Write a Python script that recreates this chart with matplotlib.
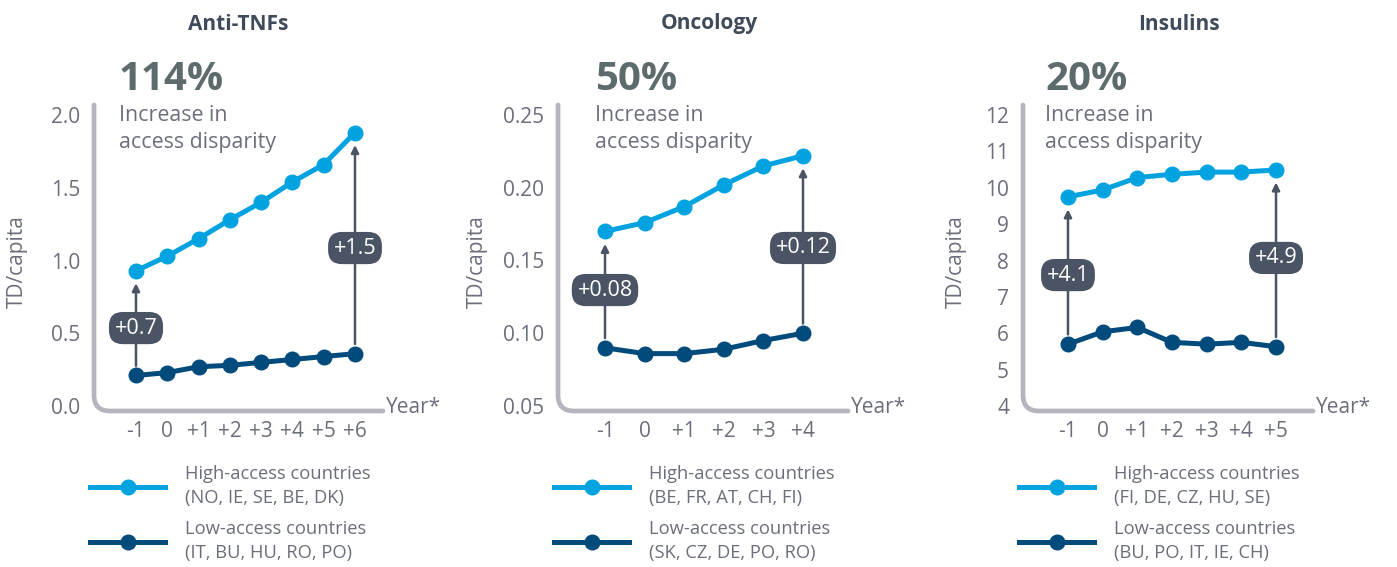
import matplotlib
matplotlib.use("Agg")
import matplotlib.pyplot as plt
from matplotlib.path import Path
from matplotlib.patches import PathPatch
from matplotlib.lines import Line2D

plt.rcParams["font.family"] = ["Open Sans", "DejaVu Sans"]

# ---- data ----
titles = ["Anti-TNFs", "Oncology", "Insulins"]
increase = ["114%", "50%", "20%"]

years_tnf = ["-1", "0", "+1", "+2", "+3", "+4", "+5", "+6"]
high_tnf = [0.93, 1.03, 1.15, 1.28, 1.40, 1.54, 1.66, 1.88]
low_tnf = [0.21, 0.23, 0.27, 0.28, 0.30, 0.32, 0.34, 0.36]

years_onc = ["-1", "0", "+1", "+2", "+3", "+4"]
high_onc = [0.170, 0.176, 0.187, 0.202, 0.215, 0.222]
low_onc = [0.090, 0.086, 0.086, 0.089, 0.095, 0.100]

years_ins = ["-1", "0", "+1", "+2", "+3", "+4", "+5"]
high_ins = [9.75, 9.94, 10.28, 10.37, 10.43, 10.43, 10.49]
low_ins = [5.70, 6.04, 6.16, 5.75, 5.70, 5.75, 5.63]

gap_labels = [["+0.7", "+1.5"], ["+0.08", "+0.12"], ["+4.1", "+4.9"]]

yticks_tnf = [0.0, 0.5, 1.0, 1.5, 2.0]
yticks_onc = [0.05, 0.10, 0.15, 0.20, 0.25]
yticks_ins = [4, 5, 6, 7, 8, 9, 10, 11, 12]
ytick_fmt = ["{:.1f}", "{:.2f}", "{:.0f}"]

high_countries = ["NO, IE, SE, BE, DK", "BE, FR, AT, CH, FI", "FI, DE, CZ, HU, SE"]
low_countries = ["IT, BU, HU, RO, PO", "SK, CZ, DE, PO, RO", "BU, PO, IT, IE, CH"]

# ---- styling / layout ----
HIGH = "#00a3e0"
LOW = "#004a7c"
SPINE = "#b5b5bd"
TXT = "#6b6f7a"
BIG = "#5e6b6d"
TITLE = "#3f4a5a"
BOX = "#4a5464"

W, H = 1397, 567
fig = plt.figure(figsize=(W / 100, H / 100), dpi=100)

# axes boxes in pixels: left, right, top, bottom ; xlim ; ylim ; label y of gap boxes
panels = [
    dict(box=(94, 383, 105, 411), xlim=(-2.342, 6.895), ylim=(-0.034, 2.069),
         years=years_tnf, high=high_tnf, low=low_tnf, yticks=yticks_tnf,
         gap_y=(0.536, 1.086), title_x=238, big_x=119, ylab_x=18),
    dict(box=(558, 848, 105, 411), xlim=(-2.187, 5.136), ylim=(0.04656, 0.25687),
         years=years_onc, high=high_onc, low=low_onc, yticks=yticks_onc,
         gap_y=(0.1297, 0.1586), title_x=709, big_x=595, ylab_x=478),
    dict(box=(1023, 1313, 105, 411), xlim=(-2.297, 6.066), ylim=(3.8625, 12.275),
         years=years_ins, high=high_ins, low=low_ins, yticks=yticks_ins,
         gap_y=(7.60, 8.07), title_x=1179, big_x=1045, ylab_x=957),
]

for i, p in enumerate(panels):
    l, r, t, b = p["box"]
    ax = fig.add_axes([l / W, 1 - b / H, (r - l) / W, (b - t) / H])
    ax.set_xlim(*p["xlim"])
    ax.set_ylim(*p["ylim"])
    for s in ax.spines.values():
        s.set_visible(False)
    ax.patch.set_visible(False)

    # rounded L-shaped axis
    aw, ah = r - l, b - t
    rad = 16
    verts = [(0, 1), (0, rad / ah), (0, 0), (rad / aw, 0), (1, 0)]
    codes = [Path.MOVETO, Path.LINETO, Path.CURVE3, Path.CURVE3, Path.LINETO]
    ax.add_patch(PathPatch(Path(verts, codes), transform=ax.transAxes, fill=False,
                           edgecolor=SPINE, lw=3.4, capstyle="round", clip_on=False))

    x = list(range(-1, len(p["years"]) - 1))
    ax.plot(x, p["high"], color=HIGH, lw=3.6, marker="o", ms=10.5, zorder=3, clip_on=False)
    ax.plot(x, p["low"], color=LOW, lw=3.6, marker="o", ms=10.5, zorder=3, clip_on=False)

    # gap arrows + labels at first and last year
    for j, k in enumerate([0, -1]):
        ax.annotate("", xy=(x[k], p["high"][k]), xytext=(x[k], p["low"][k]),
                    arrowprops=dict(arrowstyle="-|>", color=BOX, lw=1.8,
                                    shrinkA=7, shrinkB=9, mutation_scale=11),
                    zorder=2)
        ax.text(x[k], p["gap_y"][j], gap_labels[i][j], ha="center", va="center",
                fontsize=15.5, color="white", zorder=4,
                bbox=dict(boxstyle="round,pad=0.26,rounding_size=0.65", fc=BOX, ec="none"))

    ax.set_xticks(x)
    ax.set_xticklabels(p["years"])
    ax.set_yticks(p["yticks"])
    ax.set_yticklabels([ytick_fmt[i].format(v) for v in p["yticks"]])
    ax.tick_params(axis="both", length=0, labelsize=15, labelcolor=TXT)
    ax.tick_params(axis="y", pad=10)
    ax.tick_params(axis="x", pad=7)

    ax.set_ylabel("TD/capita", fontsize=15, color=TXT)
    ax.yaxis.set_label_coords(-(l - p["ylab_x"] - 10) / aw, (b - 262) / ah)
    ax.text(1.01, 0.01, "Year*", transform=ax.transAxes, ha="left", va="center",
            fontsize=15, color=TXT)

    fig.text(p["title_x"] / W, 1 - 24 / H, titles[i], ha="center", va="center",
             fontsize=15, fontweight="bold", color=TITLE)
    fig.text(p["big_x"] / W, 1 - 80 / H, increase[i], ha="left", va="center",
             fontsize=29, fontweight="bold", color=BIG)
    fig.text(p["big_x"] / W, 1 - 129 / H, "Increase in\naccess disparity", ha="left",
             va="center", fontsize=15.4, color=TXT, linespacing=1.4)

    handles = [Line2D([], [], color=HIGH, lw=3.6, marker="o", ms=10.5),
               Line2D([], [], color=LOW, lw=3.6, marker="o", ms=10.5)]
    labels = ["High-access countries\n(%s)" % high_countries[i],
              "Low-access countries\n(%s)" % low_countries[i]]
    leg = ax.legend(handles, labels, loc="upper left",
                    bbox_to_anchor=((l - 4) / W, 1 - 465 / H), bbox_transform=fig.transFigure,
                    frameon=False, fontsize=13.2, labelcolor=TXT, handlelength=4.1,
                    handletextpad=1.1, labelspacing=0.7, borderaxespad=0, borderpad=0)
    for tx in leg.get_texts():
        tx.set_linespacing(1.45)

fig.savefig("out.png", dpi=100)
